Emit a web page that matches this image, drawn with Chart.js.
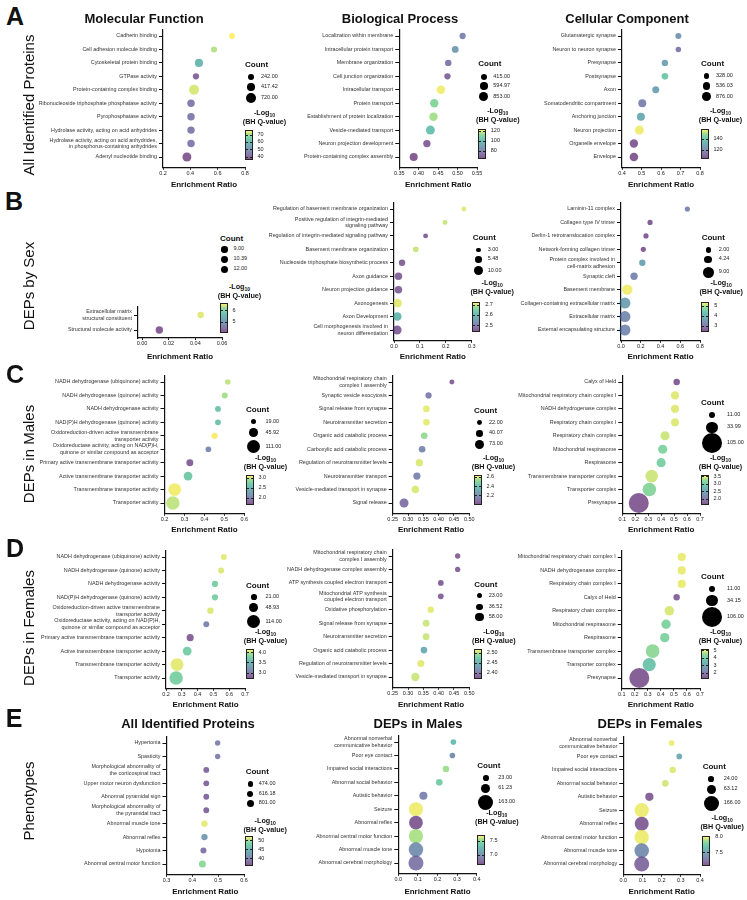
<!DOCTYPE html>
<html>
<head>
<meta charset="utf-8">
<title>Enrichment bubble charts</title>
<script src="https://cdn.jsdelivr.net/npm/chart.js@4.4.1/dist/chart.umd.min.js"></script>
<style>
  html, body { margin: 0; padding: 0; background: #fff; }
  #fig { position: relative; width: 747px; height: 900px; overflow: hidden; font-family: "Liberation Sans", Arial, Helvetica, sans-serif; color: #111; }
  #fig canvas { position: absolute; }
  .t { position: absolute; white-space: nowrap; line-height: 1; }
  .letter { font-size: 25px; font-weight: bold; }
  .rowlab { font-size: 15px; }
  .coltitle { font-size: 13px; font-weight: bold; }
  .legtitle { font-size: 8px; font-weight: bold; }
  .legsub { font-size: 7.2px; font-weight: bold; }
  .legsub sub { font-size: 5px; vertical-align: -1.5px; line-height: 0; }
  .legnum { font-size: 5.5px; color: #222; }
  .dot { position: absolute; border-radius: 50%; background: #000; }
  .cbar { position: absolute; border: 1px solid #222; box-sizing: border-box; }
  .cbtick { position: absolute; height: 1px; width: 2px; background: #222; }
</style>
</head>
<body>
<div id="fig"></div>
<script>
// ---------- A: all identified proteins ----------
const mfTerms = ['Cadherin binding', 'Cell adhesion molecule binding', 'Cytoskeletal protein binding', 'GTPase activity',
  'Protein-containing complex binding', 'Ribonucleoside triphosphate phosphatase activity', 'Pyrophosphatase activity',
  'Hydrolase activity, acting on acid anhydrides',
  'Hydrolase activity, acting on acid anhydrides,\nin phosphorus-containing anhydrides', 'Adenyl nucleotide binding'];
const mfRatio = [0.705, 0.573, 0.463, 0.441, 0.427, 0.405, 0.405, 0.405, 0.405, 0.375];
const mfCount = [242, 265, 480, 280, 720, 400, 400, 400, 400, 580];
const mfLogQ = [77, 73, 60, 39, 75, 44, 44, 44, 44, 37];
const mfTicks = [0.2, 0.4, 0.6, 0.8];
const mfCountKeys = [242, 417.42, 720];
const mfLogQRange = [36, 77];
const mfLogQTicks = [40, 50, 60, 70];

const bpTerms = ['Localization within membrane', 'Intracellular protein transport', 'Membrane organization',
  'Cell junction organization', 'Intracellular transport', 'Protein transport', 'Establishment of protein localization',
  'Vesicle-mediated transport', 'Neuron projection development', 'Protein-containing complex assembly'];
const bpRatio = [0.513, 0.494, 0.476, 0.474, 0.457, 0.44, 0.438, 0.43, 0.421, 0.387];
const bpCount = [415, 480, 440, 415, 750, 740, 760, 853, 560, 680];
const bpLogQ = [79, 88, 75, 69, 123, 112, 117, 103, 67, 65];
const bpTicks = [0.35, 0.40, 0.45, 0.50, 0.55];
const bpCountKeys = [415, 594.97, 853];
const bpLogQRange = [64, 124];
const bpLogQTicks = [80, 100, 120];

const ccTerms = ['Glutamatergic synapse', 'Neuron to neuron synapse', 'Presynapse', 'Postsynapse', 'Axon',
  'Somatodendritic compartment', 'Anchoring junction', 'Neuron projection', 'Organelle envelope', 'Envelope'];
const ccRatio = [0.689, 0.689, 0.62, 0.62, 0.573, 0.504, 0.497, 0.489, 0.461, 0.461];
const ccCount = [380, 328, 440, 470, 530, 690, 700, 876, 760, 800];
const ccLogQ = [123, 114, 128, 142, 128, 117, 131, 157, 106, 105];
const ccTicks = [0.4, 0.5, 0.6, 0.7, 0.8];
const ccCountKeys = [328, 536.03, 876];
const ccLogQRange = [104, 158];
const ccLogQTicks = [120, 140];

// ---------- B: DEPs by sex ----------
const sexMfTerms = ['Extracellular matrix\nstructural constituent', 'Structural molecule activity'];
const sexMfRatio = [0.044, 0.013];
const sexMfCount = [9, 12];
const sexMfLogQ = [6.6, 4.2];
const sexMfTicks = [0, 0.02, 0.04, 0.06];
const sexMfCountKeys = [9, 10.39, 12];
const sexMfLogQRange = [4.1, 6.7];
const sexMfLogQTicks = [5, 6];

const sexBpTerms = ['Regulation of basement membrane organization', 'Positive regulation of integrin-mediated\nsignaling pathway',
  'Regulation of integrin-mediated signaling pathway', 'Basement membrane organization',
  'Nucleoside triphosphate biosynthetic process', 'Axon guidance', 'Neuron projection guidance', 'Axonogenesis',
  'Axon Development', 'Cell morphogenesis involved in\nneuron differentiation'];
const sexBpRatio = [0.27, 0.197, 0.122, 0.084, 0.031, 0.017, 0.017, 0.014, 0.013, 0.012];
const sexBpCount = [3, 3, 3, 4, 5, 7, 7, 9, 9, 10];
const sexBpLogQ = [2.72, 2.71, 2.46, 2.71, 2.46, 2.46, 2.46, 2.72, 2.61, 2.46];
const sexBpTicks = [0, 0.1, 0.2, 0.3];
const sexBpCountKeys = [3, 5.48, 10];
const sexBpLogQRange = [2.44, 2.73];
const sexBpLogQTicks = [2.5, 2.6, 2.7];

const sexCcTerms = ['Laminin-11 complex', 'Collagen type IV trimer', 'Derlin-1 retrotranslocation complex',
  'Network-forming collagen trimer', 'Protein complex involved in\ncell-matrix adhesion', 'Synaptic cleft',
  'Basement membrane', 'Collagen-containing extracellular matrix', 'Extracellular matrix', 'External encapsulating structure'];
const sexCcRatio = [0.672, 0.294, 0.253, 0.226, 0.216, 0.132, 0.064, 0.04, 0.04, 0.04];
const sexCcCount = [2, 2, 2, 2, 3, 4, 8, 9, 9, 9];
const sexCcLogQ = [3.15, 2.5, 2.5, 2.5, 3.75, 3.2, 5.35, 3.65, 3.3, 3.3];
const sexCcTicks = [0, 0.2, 0.4, 0.6, 0.8];
const sexCcCountKeys = [2, 4.24, 9];
const sexCcLogQRange = [2.4, 5.4];
const sexCcLogQTicks = [3, 4, 5];

// ---------- C: DEPs in males ----------
const maleMfTerms = ['NADH dehydrogenase (ubiquinone) activity', 'NADH dehydrogenase (quinone) activity',
  'NADH dehydrogenase activity', 'NAD(P)H dehydrogenase (quinone) activity',
  'Oxidoreduction-driven active transmembrane\ntransporter activity',
  'Oxidoreductase activity, acting on NAD(P)H,\nquinone or similar compound as acceptor',
  'Primary active transmembrane transporter activity', 'Active transmembrane transporter activity',
  'Transmembrane transporter activity', 'Transporter activity'];
const maleMfRatio = [0.517, 0.502, 0.468, 0.468, 0.451, 0.42, 0.327, 0.318, 0.251, 0.242];
const maleMfCount = [19, 22, 21, 21, 24, 20, 30, 48, 100, 111];
const maleMfLogQ = [3.05, 3.0, 2.65, 2.65, 3.15, 2.09, 1.76, 2.72, 3.15, 3.05];
const maleMfTicks = [0.2, 0.3, 0.4, 0.5, 0.6];
const maleMfCountKeys = [19, 45.92, 111];
const maleMfLogQRange = [1.67, 3.17];
const maleMfLogQTicks = [2.0, 2.5, 3.0];

const maleBpTerms = ['Mitochondrial respiratory chain\ncomplex I assembly', 'Synaptic vesicle exocytosis',
  'Signal release from synapse', 'Neurotransmitter secretion', 'Organic acid catabolic process',
  'Carboxylic acid catabolic process', 'Regulation of neurotransmitter levels', 'Neurotransmitter transport',
  'Vesicle-mediated transport in synapse', 'Signal release'];
const maleBpRatio = [0.443, 0.367, 0.36, 0.36, 0.353, 0.346, 0.337, 0.329, 0.324, 0.287];
const maleBpCount = [22, 35, 40, 40, 40, 40, 47, 47, 50, 73];
const maleBpLogQ = [2.04, 2.15, 2.63, 2.63, 2.55, 2.18, 2.62, 2.17, 2.62, 2.1];
const maleBpTicks = [0.25, 0.30, 0.35, 0.40, 0.45, 0.50];
const maleBpCountKeys = [22, 40.07, 73];
const maleBpLogQRange = [2.0, 2.65];
const maleBpLogQTicks = [2.2, 2.4, 2.6];

const maleCcTerms = ['Calyx of Held', 'Mitochondrial respiratory chain complex I', 'NADH dehydrogenase complex',
  'Respiratory chain complex I', 'Respiratory chain complex', 'Mitochondrial respirasome', 'Respirasome',
  'Transmembrane transporter complex', 'Transporter complex', 'Presynapse'];
const maleCcRatio = [0.52, 0.507, 0.507, 0.507, 0.43, 0.412, 0.4, 0.327, 0.309, 0.227];
const maleCcCount = [11, 18, 18, 18, 22, 22, 22, 42, 48, 105];
const maleCcLogQ = [1.7, 3.55, 3.55, 3.55, 3.5, 3.19, 3.15, 3.5, 3.23, 1.68];
const maleCcTicks = [0.1, 0.2, 0.3, 0.4, 0.5, 0.6, 0.7];
const maleCcCountKeys = [11, 33.99, 105];
const maleCcLogQRange = [1.62, 3.63];
const maleCcLogQTicks = [2.0, 2.5, 3.0, 3.5];

// ---------- D: DEPs in females ----------
const femMfTerms = maleMfTerms;
const femMfRatio = [0.566, 0.549, 0.51, 0.51, 0.481, 0.455, 0.353, 0.334, 0.27, 0.264];
const femMfCount = [21, 22, 24, 24, 26, 22, 32, 50, 105, 114];
const femMfLogQ = [4.12, 4.1, 3.8, 3.8, 4.1, 3.07, 2.78, 3.78, 4.12, 3.82];
const femMfTicks = [0.2, 0.3, 0.4, 0.5, 0.6, 0.7];
const femMfCountKeys = [21, 48.93, 114];
const femMfLogQRange = [2.7, 4.17];
const femMfLogQTicks = [3.0, 3.5, 4.0];

const femBpTerms = ['Mitochondrial respiratory chain\ncomplex I assembly', 'NADH dehydrogenase complex assembly',
  'ATP synthesis coupled electron transport', 'Mitochondrial ATP synthesis\ncoupled electron transport',
  'Oxidative phosphorylation', 'Signal release from synapse', 'Neurotransmitter secretion',
  'Organic acid catabolic process', 'Regulation of neurotransmitter levels', 'Vesicle-mediated transport in synapse'];
const femBpRatio = [0.462, 0.462, 0.407, 0.407, 0.374, 0.359, 0.359, 0.352, 0.342, 0.324];
const femBpCount = [23, 23, 27, 27, 33, 37, 37, 37, 41, 58];
const femBpLogQ = [2.38, 2.38, 2.38, 2.38, 2.515, 2.51, 2.51, 2.445, 2.515, 2.51];
const femBpTicks = [0.25, 0.30, 0.35, 0.40, 0.45, 0.50];
const femBpCountKeys = [23, 36.52, 58];
const femBpLogQRange = [2.37, 2.52];
const femBpLogQTicks = [2.40, 2.45, 2.50];

const femCcTerms = ['Mitochondrial respiratory chain complex I', 'NADH dehydrogenase complex', 'Respiratory chain complex I',
  'Calyx of Held', 'Respiratory chain complex', 'Mitochondrial respirasome', 'Respirasome',
  'Transmembrane transporter complex', 'Transporter complex', 'Presynapse'];
const femCcRatio = [0.56, 0.56, 0.56, 0.521, 0.465, 0.44, 0.43, 0.337, 0.311, 0.235];
const femCcCount = [18, 18, 18, 11, 24, 23, 23, 50, 46, 106];
const femCcLogQ = [5.1, 5.1, 5.1, 1.5, 5.0, 4.3, 4.3, 4.5, 3.9, 1.35];
const femCcTicks = [0.1, 0.2, 0.3, 0.4, 0.5, 0.6, 0.7];
const femCcCountKeys = [11, 34.15, 106];
const femCcLogQRange = [1.2, 5.2];
const femCcLogQTicks = [2, 3, 4, 5];

// ---------- E: phenotypes ----------
const phAllTerms = ['Hypertonia', 'Spasticity', 'Morphological abnormality of\nthe corticospinal tract',
  'Upper motor neuron dysfunction', 'Abnormal pyramidal sign', 'Morphological abnormality of\nthe pyramidal tract',
  'Abnormal muscle tone', 'Abnormal reflex', 'Hypotonia', 'Abnormal central motor function'];
const phAllRatio = [0.498, 0.498, 0.454, 0.454, 0.454, 0.454, 0.447, 0.447, 0.443, 0.439];
const phAllCount = [474, 474, 560, 560, 560, 560, 650, 650, 590, 801];
const phAllLogQ = [40, 40, 37.5, 37.5, 37.5, 37.5, 52, 42.3, 38.5, 49.5];
const phAllTicks = [0.3, 0.4, 0.5, 0.6];
const phAllCountKeys = [474, 616.18, 801];
const phAllLogQRange = [36, 52.5];
const phAllLogQTicks = [40, 45, 50];

const phMaleTerms = ['Abnormal nonverbal\ncommunicative behavior', 'Poor eye contact', 'Impaired social interactions',
  'Abnormal social behavior', 'Autistic behavior', 'Seizure', 'Abnormal reflex', 'Abnormal central motor function',
  'Abnormal muscle tone', 'Abnormal cerebral morphology'];
const phMaleRatio = [0.281, 0.276, 0.243, 0.209, 0.128, 0.09, 0.09, 0.09, 0.09, 0.09];
const phMaleCount = [23, 23, 30, 32, 47, 145, 138, 150, 152, 163];
const phMaleLogQ = [7.31, 6.98, 7.58, 7.42, 6.92, 7.69, 6.7, 7.6, 7.0, 6.85];
const phMaleTicks = [0, 0.1, 0.2, 0.3, 0.4];
const phMaleCountKeys = [23, 61.23, 163];
const phMaleLogQRange = [6.66, 7.71];
const phMaleLogQTicks = [7.0, 7.5];

const phFemTerms = phMaleTerms;
const phFemRatio = [0.252, 0.292, 0.258, 0.219, 0.136, 0.096, 0.096, 0.096, 0.096, 0.096];
const phFemCount = [24, 24, 30, 33, 50, 150, 146, 155, 158, 166];
const phFemLogQ = [8.0, 7.56, 7.98, 7.97, 7.15, 8.0, 7.15, 8.0, 7.38, 7.2];
const phFemTicks = [0, 0.1, 0.2, 0.3, 0.4];
const phFemCountKeys = [24, 63.12, 166];
const phFemLogQRange = [7.1, 8.02];
const phFemLogQTicks = [7.5, 8.0];

// viridis stops, drawn semi-transparent like the original
const VIR = [[68,1,84],[72,40,120],[62,73,137],[49,104,142],[38,130,142],[31,158,137],[53,183,121],[110,206,88],[253,231,37]];
const ALPHA = 0.65;
const FONT = '"Liberation Sans", Arial, Helvetica, sans-serif';
Chart.defaults.font.family = FONT;

const fig = document.getElementById('fig');

function viridis(t, a) {
    t = Math.max(0, Math.min(1, t));
    const p = t * (VIR.length - 1);
    const i = Math.min(VIR.length - 2, Math.floor(p));
    const f = p - i;
    const c = VIR[i].map((v, k) => Math.round(v + (VIR[i + 1][k] - v) * f));
    return `rgba(${c[0]},${c[1]},${c[2]},${a})`;
}

function put(html, x, y, cls, align) {
    const d = document.createElement('div');
    d.className = 't ' + cls;
    d.innerHTML = html;
    d.style.left = x + 'px';
    d.style.top = y + 'px';
    d.style.transform = align === 'left' ? 'translate(0,-50%)' : 'translate(-50%,-50%)';
    fig.appendChild(d);
    return d;
}

const bubbleR = (p, c) => p.rMax * Math.sqrt(c / p.keys[p.keys.length - 1]);

// layout of every panel (pixel geometry only)
const panels = [
    { terms: mfTerms, ratio: mfRatio, count: mfCount, logq: mfLogQ, ticks: mfTicks, dec: 1, keys: mfCountKeys, qRange: mfLogQRange, qTicks: mfLogQTicks, qDec: 0,
      cl: 28, left: 163, right: 245, c0: 36, cN: 157, titleY: 184.5, rMax: 5,
      leg: { x: 245, countY: 65, circY: [76.7, 86.7, 97.7], logY: 112.5, barTop: 130 } },
    { terms: bpTerms, ratio: bpRatio, count: bpCount, logq: bpLogQ, ticks: bpTicks, dec: 2, keys: bpCountKeys, qRange: bpLogQRange, qTicks: bpLogQTicks, qDec: 0,
      cl: 255, left: 399.3, right: 477, c0: 36, cN: 157, titleY: 184.5, rMax: 4.5,
      leg: { x: 478.3, countY: 64.3, circY: [76.7, 86, 96.7], logY: 110.5, barTop: 129 } },
    { terms: ccTerms, ratio: ccRatio, count: ccCount, logq: ccLogQ, ticks: ccTicks, dec: 1, keys: ccCountKeys, qRange: ccLogQRange, qTicks: ccLogQTicks, qDec: 0,
      cl: 505, left: 622, right: 700, c0: 36, cN: 157, titleY: 184.5, rMax: 4.5,
      leg: { x: 701, countY: 64.3, circY: [76, 86, 96.7], logY: 111, barTop: 129 } },

    { terms: sexMfTerms, ratio: sexMfRatio, count: sexMfCount, logq: sexMfLogQ, ticks: sexMfTicks, dec: 2, xMin: -0.003, keys: sexMfCountKeys, qRange: sexMfLogQRange, qTicks: sexMfLogQTicks, qDec: 0,
      cl: 28, left: 138, right: 222, c0: 315, cN: 330, top: 307, axisY: 338, titleY: 356.7, rMax: 3.7,
      leg: { x: 220, countY: 239, circY: [249.3, 259.3, 269.3], logY: 286.7, barTop: 302.7 } },
    { terms: sexBpTerms, ratio: sexBpRatio, count: sexBpCount, logq: sexBpLogQ, ticks: sexBpTicks, dec: 1, keys: sexBpCountKeys, qRange: sexBpLogQRange, qTicks: sexBpLogQTicks, qDec: 1,
      cl: 255, left: 394, right: 471.7, c0: 209, cN: 330, titleY: 356.7, rMax: 4.5,
      leg: { x: 472.7, countY: 238, circY: [250, 259.3, 270.7], logY: 283.3, barTop: 302 } },
    { terms: sexCcTerms, ratio: sexCcRatio, count: sexCcCount, logq: sexCcLogQ, ticks: sexCcTicks, dec: 1, keys: sexCcCountKeys, qRange: sexCcLogQRange, qTicks: sexCcLogQTicks, qDec: 0,
      cl: 505, left: 621, right: 700, c0: 209, cN: 330, titleY: 356.7, rMax: 5.5,
      leg: { x: 701.7, countY: 238, circY: [250, 259.3, 272.3], logY: 283.3, barTop: 302.3 } },

    { terms: maleMfTerms, ratio: maleMfRatio, count: maleMfCount, logq: maleMfLogQ, ticks: maleMfTicks, dec: 1, keys: maleMfCountKeys, qRange: maleMfLogQRange, qTicks: maleMfLogQTicks, qDec: 1,
      cl: 28, left: 164.5, right: 244.3, c0: 382, cN: 503, titleY: 530, rMax: 6.7,
      leg: { x: 246, countY: 410, circY: [421.7, 432.7, 446.7], logY: 458.3, barTop: 475 } },
    { terms: maleBpTerms, ratio: maleBpRatio, count: maleBpCount, logq: maleBpLogQ, ticks: maleBpTicks, dec: 2, keys: maleBpCountKeys, qRange: maleBpLogQRange, qTicks: maleBpLogQTicks, qDec: 1,
      cl: 255, left: 392.7, right: 469.3, c0: 382, cN: 503, titleY: 530, rMax: 4.5,
      leg: { x: 474, countY: 410.7, circY: [422.7, 433.3, 444.3], logY: 458.3, barTop: 475 } },
    { terms: maleCcTerms, ratio: maleCcRatio, count: maleCcCount, logq: maleCcLogQ, ticks: maleCcTicks, dec: 1, keys: maleCcCountKeys, qRange: maleCcLogQRange, qTicks: maleCcLogQTicks, qDec: 1,
      cl: 505, left: 622.3, right: 700, c0: 382, cN: 503, titleY: 530, rMax: 10,
      leg: { x: 701, countY: 402.7, circY: [415, 427.3, 442.7], logY: 458.3, barTop: 475 } },

    { terms: femMfTerms, ratio: femMfRatio, count: femMfCount, logq: femMfLogQ, ticks: femMfTicks, dec: 1, keys: femMfCountKeys, qRange: femMfLogQRange, qTicks: femMfLogQTicks, qDec: 1,
      cl: 28, left: 166, right: 245, c0: 557, cN: 678, titleY: 705, rMax: 6.7,
      leg: { x: 246, countY: 585.7, circY: [596.7, 607.7, 621.7], logY: 631.7, barTop: 649.3 } },
    { terms: femBpTerms, ratio: femBpRatio, count: femBpCount, logq: femBpLogQ, ticks: femBpTicks, dec: 2, keys: femBpCountKeys, qRange: femBpLogQRange, qTicks: femBpLogQTicks, qDec: 2,
      cl: 255, left: 392.7, right: 469.3, c0: 556, cN: 677, titleY: 705, rMax: 4.2,
      leg: { x: 474.3, countY: 585, circY: [595.7, 607, 616.7], logY: 631.7, barTop: 649 } },
    { terms: femCcTerms, ratio: femCcRatio, count: femCcCount, logq: femCcLogQ, ticks: femCcTicks, dec: 1, keys: femCcCountKeys, qRange: femCcLogQRange, qTicks: femCcLogQTicks, qDec: 0,
      cl: 505, left: 621.7, right: 700, c0: 557, cN: 678, titleY: 705, rMax: 10,
      leg: { x: 701, countY: 577.3, circY: [589, 600.7, 616.7], logY: 632.3, barTop: 649.3 } },

    { terms: phAllTerms, ratio: phAllRatio, count: phAllCount, logq: phAllLogQ, ticks: phAllTicks, dec: 1, keys: phAllCountKeys, qRange: phAllLogQRange, qTicks: phAllLogQTicks, qDec: 0,
      cl: 28, left: 166.5, right: 244, c0: 743, cN: 864, titleY: 891.7, rMax: 3.5,
      leg: { x: 245.7, countY: 772.3, circY: [784, 794, 803.3], logY: 820.7, barTop: 836 } },
    { terms: phMaleTerms, ratio: phMaleRatio, count: phMaleCount, logq: phMaleLogQ, ticks: phMaleTicks, dec: 1, keys: phMaleCountKeys, qRange: phMaleLogQRange, qTicks: phMaleLogQTicks, qDec: 1,
      cl: 255, left: 398.3, right: 476.7, c0: 742, cN: 863, titleY: 891.7, rMax: 7.5,
      leg: { x: 477.3, countY: 765.7, circY: [778.3, 788.3, 802.3], logY: 813.3, barTop: 835 } },
    { terms: phFemTerms, ratio: phFemRatio, count: phFemCount, logq: phFemLogQ, ticks: phFemTicks, dec: 1, keys: phFemCountKeys, qRange: phFemLogQRange, qTicks: phFemLogQTicks, qDec: 1,
      cl: 505, left: 623.3, right: 700, c0: 743, cN: 864, titleY: 891.7, rMax: 7.5,
      leg: { x: 702.7, countY: 767.3, circY: [779, 789.3, 803.3], logY: 818.3, barTop: 836 } },
];

function drawPanel(p) {
    const n = p.terms.length;
    const step = (p.cN - p.c0) / (n - 1);
    const top = p.top != null ? p.top : p.c0 - 0.5 * step;
    const axisY = p.axisY != null ? p.axisY : p.cN + 0.8 * step;
    const yMin = -(p.c0 - top) / step;
    const yMax = (n - 1) + (axisY - p.cN) / step;
    const xH = p.titleY - axisY + 4.8;      // x scale height puts the axis title at titleY
    const ct = Math.floor(top - 14);
    const cw = Math.ceil(p.right + 12 - p.cl);
    const ch = Math.ceil(axisY + xH + 2 - ct);

    const cv = document.createElement('canvas');
    cv.width = cw; cv.height = ch;
    cv.style.left = p.cl + 'px'; cv.style.top = ct + 'px';
    cv.style.width = cw + 'px'; cv.style.height = ch + 'px';
    fig.appendChild(cv);

    const [qLo, qHi] = p.qRange;
    const xMin = p.xMin != null ? p.xMin : p.ticks[0];
    const xMax = p.ticks[p.ticks.length - 1];
    const axisGrid = len => ({ display: true, drawOnChartArea: false, drawTicks: true, tickLength: len, color: '#111', lineWidth: 1 });
    const axisBorder = { display: true, color: '#111', width: 1.2 };

    new Chart(cv, {
        type: 'bubble',
        data: {
            datasets: [{
                data: p.ratio.map((x, i) => ({ x, y: i, r: bubbleR(p, p.count[i]) })),
                backgroundColor: p.logq.map(v => viridis((v - qLo) / (qHi - qLo), ALPHA)),
                borderWidth: 0,
                hoverBorderWidth: 0,
                hoverRadius: 0,
                clip: false,
            }]
        },
        options: {
            responsive: false,
            animation: false,
            events: [],
            layout: { padding: { left: 0, top: top - ct, right: p.cl + cw - p.right, bottom: ct + ch - axisY - xH } },
            plugins: { legend: { display: false }, tooltip: { enabled: false } },
            scales: {
                x: {
                    type: 'linear', bounds: 'data', min: xMin, max: xMax,
                    afterFit: s => { s.height = xH; },
                    afterBuildTicks: s => { s.ticks = p.ticks.map(v => ({ value: v })); },
                    ticks: { callback: v => v.toFixed(p.dec), font: { size: 5.5 }, color: '#222', padding: 0.5, autoSkip: false, maxRotation: 0 },
                    grid: axisGrid(2),
                    border: axisBorder,
                    title: { display: true, text: 'Enrichment Ratio', font: { size: 8, weight: 'bold' }, color: '#111', padding: 0 },
                },
                y: {
                    type: 'linear', reverse: true, bounds: 'data', min: yMin, max: yMax,
                    afterFit: s => { s.width = p.left - p.cl; },
                    afterBuildTicks: s => { s.ticks = p.terms.map((t, i) => ({ value: i })); },
                    ticks: { callback: (v, i) => p.terms[i].split('\n'), font: { size: 5.4 }, color: '#333', padding: 2, autoSkip: false },
                    grid: axisGrid(4),
                    border: axisBorder,
                },
            },
        },
    });
    drawLegend(p);
}

function drawLegend(p) {
    const L = p.leg;
    put('Count', L.x, L.countY, 'legtitle', 'left');
    const cx = L.x + p.rMax + 1;
    p.keys.forEach((k, i) => {
        const r = bubbleR(p, k);
        const d = document.createElement('div');
        d.className = 'dot';
        d.style.left = (cx - r) + 'px';
        d.style.top = (L.circY[i] - r) + 'px';
        d.style.width = d.style.height = (2 * r) + 'px';
        fig.appendChild(d);
        put(k.toFixed(2), cx + p.rMax + 5, L.circY[i], 'legnum', 'left');
    });
    put('-Log<sub>10</sub>', L.x + 19.5, L.logY, 'legsub');
    put('(BH Q-value)', L.x + 19.5, L.logY + 9, 'legsub');

    const bx = L.x - 0.5, bw = 8, bh = 30;
    const bar = document.createElement('div');
    bar.className = 'cbar';
    bar.style.left = bx + 'px'; bar.style.top = L.barTop + 'px';
    bar.style.width = bw + 'px'; bar.style.height = bh + 'px';
    bar.style.background = 'linear-gradient(to top, ' +
        VIR.map((c, i) => viridis(i / (VIR.length - 1), ALPHA) + ' ' + (i / (VIR.length - 1) * 100).toFixed(1) + '%').join(', ') + ')';
    fig.appendChild(bar);
    const [qLo, qHi] = p.qRange;
    p.qTicks.forEach(v => {
        const y = L.barTop + (qHi - v) / (qHi - qLo) * bh;
        [bx + 1, bx + bw - 3].forEach(tx => {
            const tk = document.createElement('div');
            tk.className = 'cbtick';
            tk.style.left = tx + 'px'; tk.style.top = (y - 0.5) + 'px';
            fig.appendChild(tk);
        });
        put(v.toFixed(p.qDec), bx + 13, y, 'legnum', 'left');
    });
}

panels.forEach(drawPanel);

// row letters, row labels, column titles
const rowLetters = [['A', 15, 16], ['B', 14, 201], ['C', 15, 374], ['D', 15, 547.5], ['E', 14, 718]];
rowLetters.forEach(([s, x, y]) => put(s, x, y, 'letter'));

const rowLabels = [['All Identified Proteins', 105], ['DEPs by Sex', 286], ['DEPs in Males', 454], ['DEPs in Females', 628], ['Phenotypes', 801]];
rowLabels.forEach(([s, y]) => {
    const d = put(s, 28, y, 'rowlab');
    d.style.transform = 'translate(-50%,-50%) rotate(-90deg)';
});

const colTitles = [['Molecular Function', 144, 18], ['Biological Process', 400, 18], ['Cellular Component', 627, 18],
    ['All Identified Proteins', 188, 723], ['DEPs in Males', 418, 723], ['DEPs in Females', 650, 723]];
colTitles.forEach(([s, x, y]) => put(s, x, y, 'coltitle'));
</script>
</body>
</html>
